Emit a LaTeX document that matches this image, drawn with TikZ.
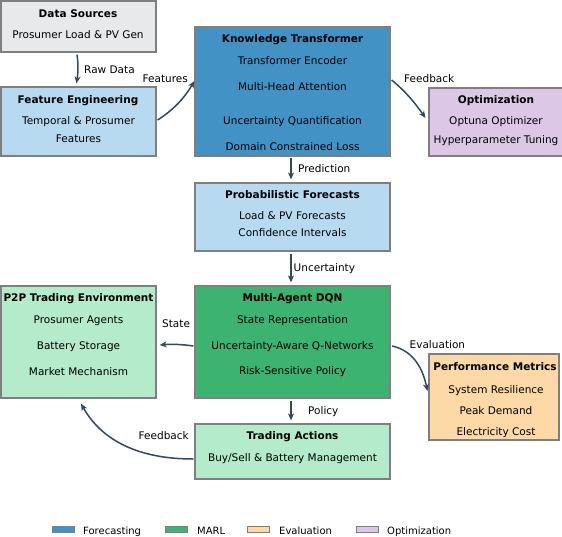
\documentclass[tikz,border=0pt]{standalone}
\usepackage{fontspec}
\setmainfont{DejaVu Sans}
\usetikzlibrary{arrows.meta}
\definecolor{cGray}{HTML}{E8E9EB}
\definecolor{cBlue}{HTML}{4292C6}
\definecolor{cLBlue}{HTML}{B8DAF0}
\definecolor{cGreen}{HTML}{3CB371}
\definecolor{cLGreen}{HTML}{B4EBCA}
\definecolor{cOrange}{HTML}{FCD9A6}
\definecolor{cPurple}{HTML}{DCC8E6}
\definecolor{cBorder}{HTML}{7F7F7F}
\definecolor{cArrow}{HTML}{34495E}
\tikzset{
  box/.style={draw=cBorder, line width=1.2pt, inner sep=0pt},
  txt/.style={inner sep=0pt, text height=7.6pt, text depth=0pt, font=\fontsize{10.5}{12}\selectfont},
  ttl/.style={txt, font=\fontsize{10.5}{12}\selectfont\bfseries},
  lbl/.style={txt, anchor=west},
  leg/.style={inner sep=0pt, text height=7.3pt, text depth=0pt, anchor=west, font=\fontsize{10}{12}\selectfont},
  lpatch/.style={draw=cBorder, line width=0.8pt, inner sep=0pt, minimum width=22pt, minimum height=6pt},
  arr/.style={draw=cArrow, line width=1.5pt, -{Stealth[length=7pt,width=6pt,inset=2pt]}}
}
\begin{document}
\begin{tikzpicture}[x=1pt,y=-1pt]
\useasboundingbox (0,0) rectangle (562,536);
\fill[white] (0,0) rectangle (562,536);

% boxes
\node[box, fill=cGray,   minimum width=155pt, minimum height=51pt]  (ds)  at (78.5,26.5) {};
\node[box, fill=cLBlue,  minimum width=155pt, minimum height=69pt]  (fe)  at (78.5,121.5) {};
\node[box, fill=cBlue,   minimum width=195pt, minimum height=129pt] (kt)  at (292.5,91.5) {};
\node[box, fill=cPurple, minimum width=134pt, minimum height=68pt]  (opt) at (496,122) {};
\node[box, fill=cLBlue,  minimum width=195pt, minimum height=68pt]  (pf)  at (292.5,217) {};
\node[box, fill=cLGreen, minimum width=155pt, minimum height=112pt] (p2p) at (78.5,342) {};
\node[box, fill=cGreen,  minimum width=195pt, minimum height=112pt] (dqn) at (292.5,342) {};
\node[box, fill=cOrange, minimum width=130pt, minimum height=86pt]  (pm)  at (494,397) {};
\node[box, fill=cLGreen, minimum width=195pt, minimum height=55pt]  (ta)  at (292.5,451.5) {};

% texts
\node[ttl] (dsT) at (78,13.5) {Data Sources};
\node[txt] (ds1) at (78,35) {Prosumer Load \& PV Gen};

\node[ttl] (feT) at (78,100) {Feature Engineering};
\node[txt] (fe1) at (78.5,121) {Temporal \& Prosumer};
\node[txt] (fe2) at (78.5,138.5) {Features};

\node[ttl] (ktT) at (292.5,39) {Knowledge Transformer};
\node[txt] (kt1) at (292.5,61) {Transformer Encoder};
\node[txt] (kt2) at (292.5,86.5) {Multi-Head Attention};
\node[txt] (kt3) at (292.5,120.5) {Uncertainty Quantification};
\node[txt] (kt4) at (292.5,146.5) {Domain Constrained Loss};

\node[ttl] (optT) at (496,100) {Optimization};
\node[txt] (opt1) at (496,121) {Optuna Optimizer};
\node[txt] (opt2) at (496,139.5) {Hyperparameter Tuning};

\node[ttl] (pfT) at (292.5,195) {Probabilistic Forecasts};
\node[txt] (pf1) at (292.5,216) {Load \& PV Forecasts};
\node[txt] (pf2) at (292.5,233) {Confidence Intervals};

\node[ttl] (p2pT) at (78.5,297.5) {P2P Trading Environment};
\node[txt] (p2p1) at (78.5,320) {Prosumer Agents};
\node[txt] (p2p2) at (78.5,346) {Battery Storage};
\node[txt] (p2p3) at (78.5,372) {Market Mechanism};

\node[ttl] (dqnT) at (292.5,298) {Multi-Agent DQN};
\node[txt] (dqn1) at (292.5,320) {State Representation};
\node[txt] (dqn2) at (292.5,346) {Uncertainty-Aware Q-Networks};
\node[txt] (dqn3) at (292.5,371) {Risk-Sensitive Policy};

\node[ttl] (pmT) at (495,366.5) {Performance Metrics};
\node[txt] (pm1) at (496,390) {System Resilience};
\node[txt] (pm2) at (496,411) {Peak Demand};
\node[txt] (pm3) at (496,431.5) {Electricity Cost};

\node[ttl] (taT) at (292.5,436) {Trading Actions};
\node[txt] (ta1) at (292.5,458) {Buy/Sell \& Battery Management};

% connector labels
\node[lbl] (lRaw)  at (84,70)   {Raw Data};
\node[lbl] (lFeat) at (142.5,79) {Features};
\node[lbl] (lFb1)  at (404,78.5) {Feedback};
\node[lbl] (lPred) at (298,169) {Prediction};
\node[lbl] (lUnc)  at (293.5,268) {Uncertainty};
\node[lbl] (lState) at (162,324) {State};
\node[lbl] (lEval) at (409.5,345) {Evaluation};
\node[lbl] (lPol)  at (308,411) {Policy};
\node[lbl] (lFb2)  at (138.5,436) {Feedback};

% connectors
\draw[arr] ([xshift=-1.5pt,yshift=-2pt]ds.south) .. controls +(1.5,10) and +(1.5,-10) .. ([xshift=-2pt,yshift=3pt]fe.north);
\draw[arr] ([xshift=1pt,yshift=1.5pt]fe.east) .. controls +(16,-10) and +(-9.3,16) .. ([xshift=0pt,yshift=10.5pt]kt.west);
\draw[arr] ([xshift=1pt,yshift=11.5pt]kt.east) .. controls +(13.3,10.7) and +(-10,-14.7) .. ([xshift=-3pt,yshift=4pt]opt.west);
\draw[arr] ([xshift=-1.5pt,yshift=-1pt]kt.south) -- ([xshift=-1.5pt,yshift=3pt]pf.north);
\draw[arr] ([xshift=-1.5pt,yshift=-2pt]pf.south) -- ([xshift=-1.5pt,yshift=3pt]dqn.north);
\draw[arr] ([xshift=-1pt,yshift=-4pt]dqn.west) .. controls +(-11.7,-1.7) and +(11.3,-1) .. ([xshift=3pt,yshift=-3pt]p2p.east);
\draw[arr] ([xshift=1.5pt,yshift=-4pt]dqn.east) .. controls +(18.7,4) and +(-5.3,-26) .. ([xshift=-1pt,yshift=6pt]pm.west);
\draw[arr] ([xshift=-1.5pt,yshift=-2pt]dqn.south) -- ([xshift=-1.5pt,yshift=3pt]ta.north);
\draw[arr] ([xshift=-1pt,yshift=-7.5pt]ta.west) .. controls +(-54.3,0) and +(21,37.3) .. ([xshift=2.5pt,yshift=-5pt]p2p.south);

% legend
\node[lpatch, fill=cBlue]   (lg1) at (63,529.5) {};
\node[leg] (lg1t) at (83,530.5) {Forecasting};
\node[lpatch, fill=cGreen]  (lg2) at (176.5,529.5) {};
\node[leg] (lg2t) at (197,530.5) {MARL};
\node[lpatch, fill=cOrange] (lg3) at (258,529.5) {};
\node[leg] (lg3t) at (279,530.5) {Evaluation};
\node[lpatch, fill=cPurple] (lg4) at (367.5,529.5) {};
\node[leg] (lg4t) at (387,530.5) {Optimization};
\end{tikzpicture}
\end{document}
